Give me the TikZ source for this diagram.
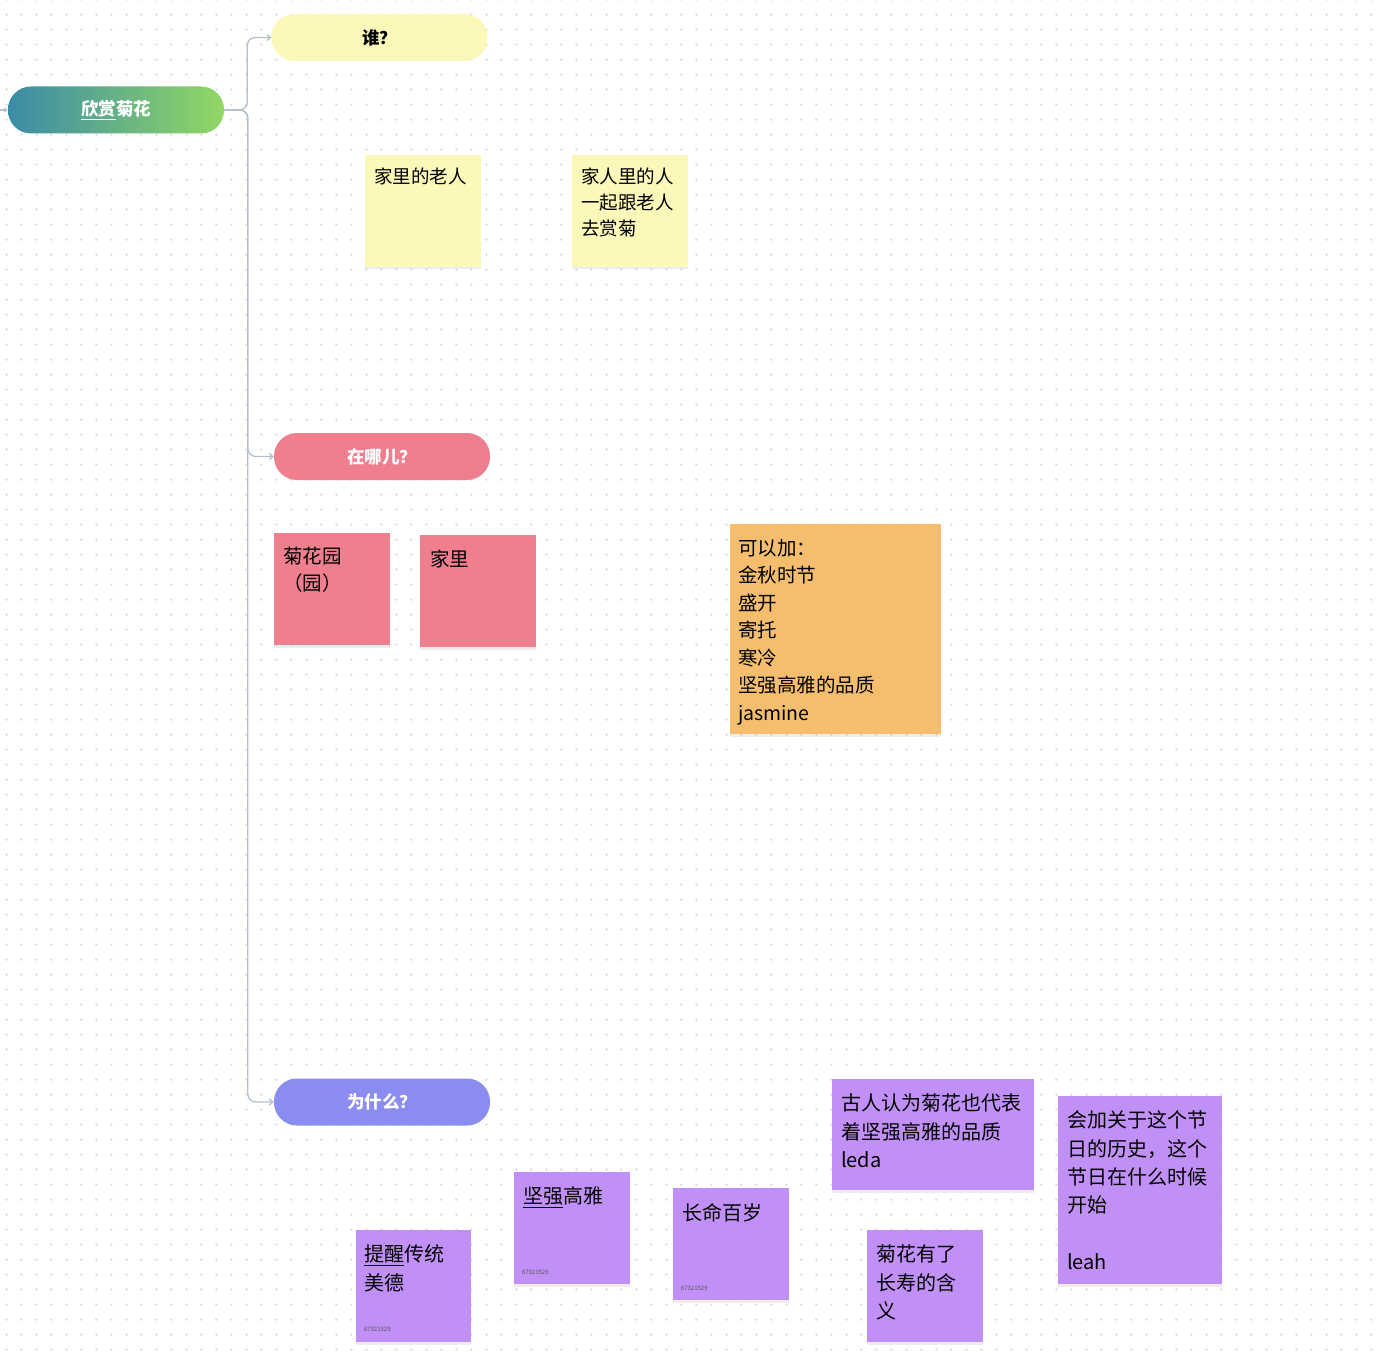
\documentclass[tikz,border=0pt]{standalone}
\usepackage{fontspec}
\setmainfont{Noto Sans CJK SC}
\usetikzlibrary{arrows.meta,shadows,calc,patterns}
\definecolor{gridc}{HTML}{D9DDE3}
\definecolor{connc}{HTML}{B7BFCA}
\definecolor{rootl}{HTML}{3A8BA8}
\definecolor{rootr}{HTML}{92D863}
\definecolor{yel}{HTML}{FBF8B9}
\definecolor{pinkc}{HTML}{EF7F8F}
\definecolor{bluec}{HTML}{8A8CEF}
\definecolor{orangec}{HTML}{F5BE6F}
\definecolor{purplec}{HTML}{C190F6}
\definecolor{numc}{HTML}{555555}
\pgfdeclarepatternformonly{dotgrid}{\pgfpointorigin}{\pgfpoint{15.45pt}{15.45pt}}{\pgfpoint{15.45pt}{15.45pt}}{\pgfpathcircle{\pgfpoint{7.7pt}{7.7pt}}{1.3pt}\pgfusepath{fill}}
\tikzset{
  pill/.style={rounded corners=23pt, minimum width=216pt, minimum height=47pt, inner sep=0pt, font=\fontsize{17.5}{20}\selectfont\bfseries},
  note/.style={inner sep=0pt, drop shadow={shadow xshift=0pt, shadow yshift=-2.5pt, opacity=0.07, fill=black}},
  txt/.style={anchor=north west, inner sep=0pt, align=left, text=black},
  ytxt/.style={txt, font=\fontsize{18.5}{26}\selectfont},
  ptxt/.style={txt, font=\fontsize{19.5}{27}\selectfont},
  otxt/.style={txt, font=\fontsize{19.5}{27.5}\selectfont},
  vtxt/.style={txt, font=\fontsize{20}{28.3}\selectfont},
  numtxt/.style={anchor=west, inner sep=0pt, text=numc, font=\fontsize{6}{7}\selectfont},
  conn/.style={draw=connc, line width=1.3pt, rounded corners=8pt, -{Straight Barb[length=3.5pt,width=6pt]}},
}
\begin{document}
\begin{tikzpicture}[x=1pt,y=-1pt]
\useasboundingbox (0,0) rectangle (1384,1356);
\fill[white] (0,0) rectangle (1384,1356);
\fill[pattern=dotgrid, pattern color=gridc] (0,0) rectangle (1384,1356);
% main topics
\node[pill, left color=rootl, right color=rootr, text=white] (root) at (116,110) {\underline{欣赏}菊花};
\node[pill, fill=yel, text=black] (who) at (379.5,37.5) {谁？};
\node[pill, fill=pinkc, text=white] (where) at (382,456.5) {在哪儿？};
\node[pill, fill=bluec, text=white] (why) at (382,1102) {为什么？};
% connectors
\coordinate (in) at (0,110);
\draw[draw=connc, line width=1.1pt, -{Straight Barb[length=2.5pt,width=4pt]}] (in) -- (root.west);
\draw[conn] (root.east) -| ([xshift=-24pt]who.west) -- (who.west);
\draw[conn] (root.east) -| ([xshift=-26pt]where.west) -- (where.west);
\draw[conn] (root.east) -| ([xshift=-26pt]why.west) -- (why.west);
% yellow notes
\node[note, fill=yel, minimum width=116pt, minimum height=112pt] (y1) at (423,211) {};
\node[ytxt] (y1t) at ([shift={(9,13)}]y1.north west) {家里的老人};
\node[note, fill=yel, minimum width=116pt, minimum height=112pt] (y2) at (630,211) {};
\node[ytxt] (y2t) at ([shift={(9,13)}]y2.north west) {家人里的人\\一起跟老人\\去赏菊};
% pink notes
\node[note, fill=pinkc, minimum width=116pt, minimum height=112pt] (p1) at (332,589) {};
\node[ptxt] (p1t) at ([shift={(9,14)}]p1.north west) {菊花园\\（园）};
\node[note, fill=pinkc, minimum width=116pt, minimum height=112pt] (p2) at (478,591) {};
\node[ptxt] (p2t) at ([shift={(10,15)}]p2.north west) {家里};
% orange note
\node[note, fill=orangec, minimum width=211pt, minimum height=210pt] (o1) at (835.5,629) {};
\node[otxt] (o1t) at ([shift={(8,15)}]o1.north west) {可以加：\\金秋时节\\盛开\\寄托\\寒冷\\坚强高雅的品质\\jasmine};
% purple notes
\node[note, fill=purplec, minimum width=115pt, minimum height=112pt] (v1) at (413.5,1286) {};
\node[vtxt] (v1t) at ([shift={(8,15)}]v1.north west) {\underline{提醒}传统\\美德};
\node[numtxt] (v1n) at ([shift={(8,-13)}]v1.south west) {67321529};
\node[note, fill=purplec, minimum width=116pt, minimum height=112pt] (v2) at (572,1228) {};
\node[vtxt] (v2t) at ([shift={(9,15)}]v2.north west) {\underline{坚强}高雅};
\node[numtxt] (v2n) at ([shift={(8,-12)}]v2.south west) {67321529};
\node[note, fill=purplec, minimum width=116pt, minimum height=112pt] (v3) at (731,1244) {};
\node[vtxt] (v3t) at ([shift={(9,15)}]v3.north west) {长命百岁};
\node[numtxt] (v3n) at ([shift={(8,-12)}]v3.south west) {67321529};
\node[note, fill=purplec, minimum width=202pt, minimum height=111pt] (v4) at (933,1134.5) {};
\node[vtxt] (v4t) at ([shift={(9,15)}]v4.north west) {古人认为菊花也代表\\着坚强高雅的品质\\leda};
\node[note, fill=purplec, minimum width=116pt, minimum height=112pt] (v5) at (925,1286) {};
\node[vtxt] (v5t) at ([shift={(9,15)}]v5.north west) {菊花有了\\长寿的含\\义};
\node[note, fill=purplec, minimum width=164pt, minimum height=188pt] (v6) at (1140,1190) {};
\node[vtxt] (v6t) at ([shift={(9,15)}]v6.north west) {会加关于这个节\\日的历史，这个\\节日在什么时候\\开始\\[28.3pt]leah};
\end{tikzpicture}
\end{document}
